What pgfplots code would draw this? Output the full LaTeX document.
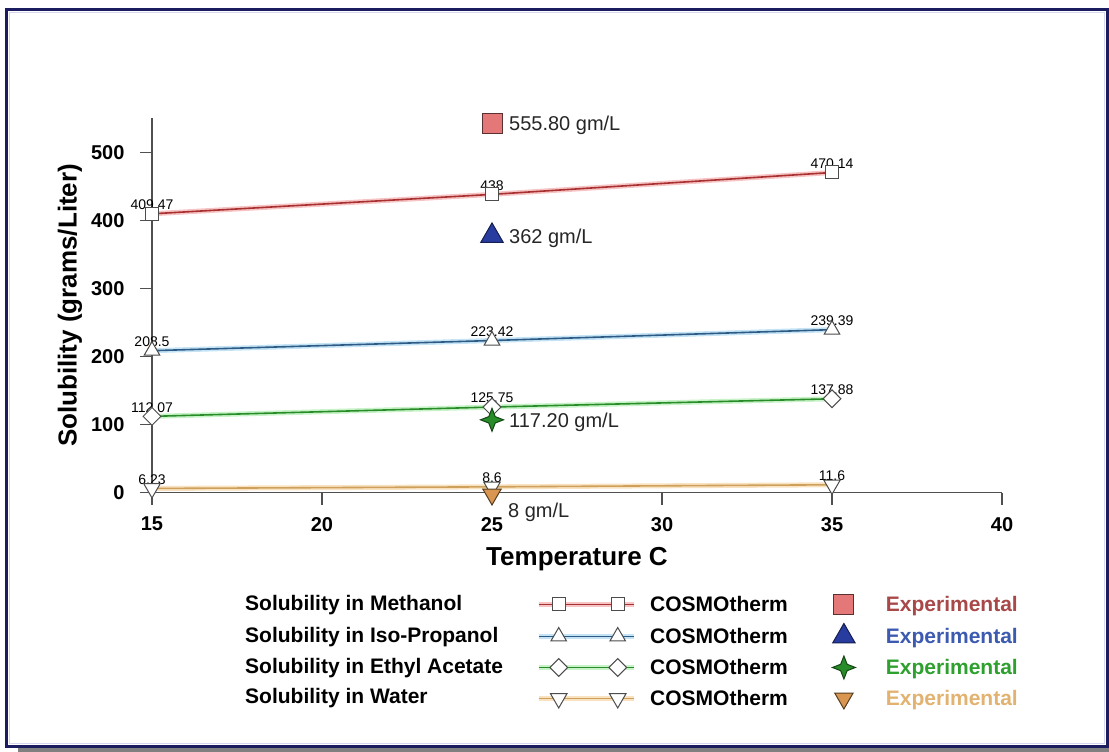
\documentclass[border=0pt]{standalone}
\usepackage{fontspec}
\setmainfont{Liberation Sans}
\usepackage{pgfplots}
\pgfplotsset{compat=1.18}
\usepackage{pgfplotstable}

\definecolor{framec}{RGB}{28,28,96}
\definecolor{shadowc}{RGB}{128,128,128}
\definecolor{lav}{RGB}{214,214,240}
\definecolor{axgray}{RGB}{80,80,80}
\definecolor{mline}{RGB}{168,48,48}
\definecolor{mhalo}{RGB}{246,196,196}
\definecolor{iline}{RGB}{46,90,134}
\definecolor{ihalo}{RGB}{196,228,246}
\definecolor{eline}{RGB}{40,140,40}
\definecolor{ehalo}{RGB}{200,242,200}
\definecolor{wline}{RGB}{206,160,92}
\definecolor{whalo}{RGB}{248,226,192}
\definecolor{mexp}{RGB}{228,120,120}
\definecolor{iexp}{RGB}{40,60,160}
\definecolor{eexp}{RGB}{40,140,40}
\definecolor{wexp}{RGB}{216,150,80}
\definecolor{mtxt}{RGB}{168,72,72}
\definecolor{itxt}{RGB}{60,90,176}
\definecolor{etxt}{RGB}{46,160,46}
\definecolor{wtxt}{RGB}{226,178,112}

\pgfdeclareplotmark{fourstar}{%
 \pgfpathmoveto{\pgfqpoint{0pt}{\pgfplotmarksize}}%
 \pgfpathlineto{\pgfqpoint{.28\pgfplotmarksize}{.28\pgfplotmarksize}}%
 \pgfpathlineto{\pgfqpoint{\pgfplotmarksize}{0pt}}%
 \pgfpathlineto{\pgfqpoint{.28\pgfplotmarksize}{-.28\pgfplotmarksize}}%
 \pgfpathlineto{\pgfqpoint{0pt}{-\pgfplotmarksize}}%
 \pgfpathlineto{\pgfqpoint{-.28\pgfplotmarksize}{-.28\pgfplotmarksize}}%
 \pgfpathlineto{\pgfqpoint{-\pgfplotmarksize}{0pt}}%
 \pgfpathlineto{\pgfqpoint{-.28\pgfplotmarksize}{.28\pgfplotmarksize}}%
 \pgfpathclose
 \pgfusepathqfillstroke}

\pgfplotstableread{
x y label
15 409.47 409.47
25 438 438
35 470.14 470.14
}\meth
\pgfplotstableread{
x y label
15 208.5 208.5
25 223.42 223.42
35 239.39 239.39
}\iso
\pgfplotstableread{
x y label
15 112.07 112.07
25 125.75 125.75
35 137.88 137.88
}\ethyl
\pgfplotstableread{
x y label
15 6.23 6.23
25 8.6 8.6
35 11.6 11.6
}\water

\tikzset{cosmomark/.style={fill=white, draw=black!70, line width=1pt, solid}}
\pgfplotsset{
 halolabels/.style={forget plot, nodes near coords, point meta=explicit symbolic,
   nodes near coords style={text=black, font=\fontsize{14}{16}\selectfont, inner sep=0pt, anchor=center, yshift=9pt}},
 cosmoleg/.style={legend image code/.code={%
   \draw[line width=5pt, #1] (0pt,0pt) -- (95pt,0pt);
   \draw[##1, mark indices={2,3}] plot coordinates {(0pt,0pt) (20pt,0pt) (79pt,0pt) (95pt,0pt)};
   \path[draw=none, fill=none] (0pt,-12pt) -- (0pt,12pt);}},
 expleg/.style={legend image code/.code={%
   \path[draw=none, fill=none] (-12pt,-12pt) rectangle (28pt,12pt);
   \draw[##1] plot coordinates {(0pt,0pt)};}},
 explabel/.style={draw=none, mark=none, forget plot, nodes near coords, point meta=explicit symbolic,
   nodes near coords style={text=black!85, font=\fontsize{20}{24}\selectfont, inner sep=0pt, anchor=base west}},
}

\begin{document}
\begin{tikzpicture}
\path[use as bounding box] (0pt,0pt) rectangle (1109pt,752pt);
\fill[shadowc] (18pt,0pt) rectangle (1109pt,4.5pt);
\draw[framec, line width=3pt] (6.5pt,5.8pt) rectangle (1107.5pt,742pt);
\draw[lav, line width=1pt] (9.5pt,8.8pt) rectangle (1104.5pt,739pt);

\begin{axis}[
 at={(152pt,259.3pt)}, anchor=south west,
 scale only axis, width=850pt, height=374.6pt,
 xmin=15, xmax=40, ymin=0, ymax=550,
 axis lines=left, axis line style={-, draw=axgray, line width=1.3pt},
 xtick={15,20,...,40}, ytick={0,100,...,500},
 tick align=outside, major tick length=12pt,
 tick style={draw=axgray, line width=1.3pt},
 ticklabel style={font=\fontsize{20}{23}\selectfont\bfseries},
 xticklabel style={yshift=-9pt},
 yticklabel style={xshift=-12pt},
 /pgf/number format/assume math mode=true,
 xlabel={Temperature C}, ylabel={Solubility (grams/Liter)},
 label style={font=\fontsize{26}{30}\selectfont\bfseries},
 xlabel style={at={(axis description cs:0.5,-0.1783)}, anchor=center},
 ylabel style={at={(axis description cs:-0.0965,0.5)}, anchor=center},
 clip=false,
 legend columns=2,
 legend cell align=left,
 legend style={draw=none, fill=none, inner sep=0pt,
   at={(axis description cs:0.4518,-0.4239)}, anchor=west,
   font=\fontsize{21}{24}\selectfont\bfseries, row sep=7pt, nodes={inner sep=0pt},
   /tikz/every odd column/.append style={column sep=14pt},
   /tikz/every even column/.append style={column sep=44pt}},
]
% ---- Methanol
\addplot[line width=5pt, mhalo, halolabels] table[x=x,y=y,meta=label]{\meth};
\addplot[mline, line width=1.6pt, mark=square*, mark size=6.5pt, mark options={cosmomark}, cosmoleg=mhalo]
  table[x=x,y=y]{\meth};
\addlegendentry{COSMOtherm}
\addplot[only marks, mark=square*, mark size=10pt, mark options={fill=mexp, draw=black!60!mexp, line width=1pt}, expleg]
  coordinates {(25,542.4)};
\addlegendentry{\textcolor{mtxt}{Experimental}}
% ---- Iso-propanol
\addplot[line width=5pt, ihalo, halolabels] table[x=x,y=y,meta=label]{\iso};
\addplot[iline, line width=1.6pt, mark=triangle*, mark size=9pt, mark options={cosmomark}, cosmoleg=ihalo]
  table[x=x,y=y]{\iso};
\addlegendentry{COSMOtherm}
\addplot[only marks, mark=triangle*, mark size=13pt, mark options={fill=iexp, draw=black!50!iexp, line width=1pt}, expleg]
  coordinates {(25,377)};
\addlegendentry{\textcolor{itxt}{Experimental}}
% ---- Ethyl acetate
\addplot[line width=5pt, ehalo, halolabels] table[x=x,y=y,meta=label]{\ethyl};
\addplot[eline, line width=1.6pt, mark=square*, mark size=6.3pt, mark options={cosmomark, rotate=45}, cosmoleg=ehalo]
  table[x=x,y=y]{\ethyl};
\addlegendentry{COSMOtherm}
\addplot[only marks, mark=fourstar, mark size=11.5pt, mark options={fill=eexp, draw=black!50!eexp, line width=1pt}, expleg]
  coordinates {(25,107)};
\addlegendentry{\textcolor{etxt}{Experimental}}
% ---- Water
\addplot[line width=5pt, whalo, halolabels] table[x=x,y=y,meta=label]{\water};
\addplot[wline, line width=1.6pt, mark=triangle*, mark size=9.5pt, mark options={cosmomark, rotate=180}, cosmoleg=whalo]
  table[x=x,y=y]{\water};
\addlegendentry{COSMOtherm}
\addplot[only marks, mark=triangle*, mark size=10.5pt, mark options={fill=wexp, draw=black!60!wexp, line width=1pt, rotate=180}, expleg]
  coordinates {(25,-2.6)};
\addlegendentry{\textcolor{wtxt}{Experimental}}
% ---- experimental value labels
\addplot[explabel, nodes near coords style={xshift=17pt, yshift=-7.2pt}]
  coordinates {(25,542.4) [555.80 gm/L] (25,377) [362 gm/L] (25,107) [117.20 gm/L]};
\addplot[explabel, nodes near coords style={xshift=16pt, yshift=-22.7pt}]
  coordinates {(25,-2.6) [8 gm/L]};
\end{axis}

\begin{scope}[every node/.style={anchor=west, inner sep=0pt, font=\fontsize{21}{24}\selectfont\bfseries}]
\node at (245pt,147pt) {Solubility in Methanol};
\node at (245pt,115pt) {Solubility in Iso-Propanol};
\node at (245pt,84pt) {Solubility in Ethyl Acetate};
\node at (245pt,54pt) {Solubility in Water};
\end{scope}
\end{tikzpicture}
\end{document}
